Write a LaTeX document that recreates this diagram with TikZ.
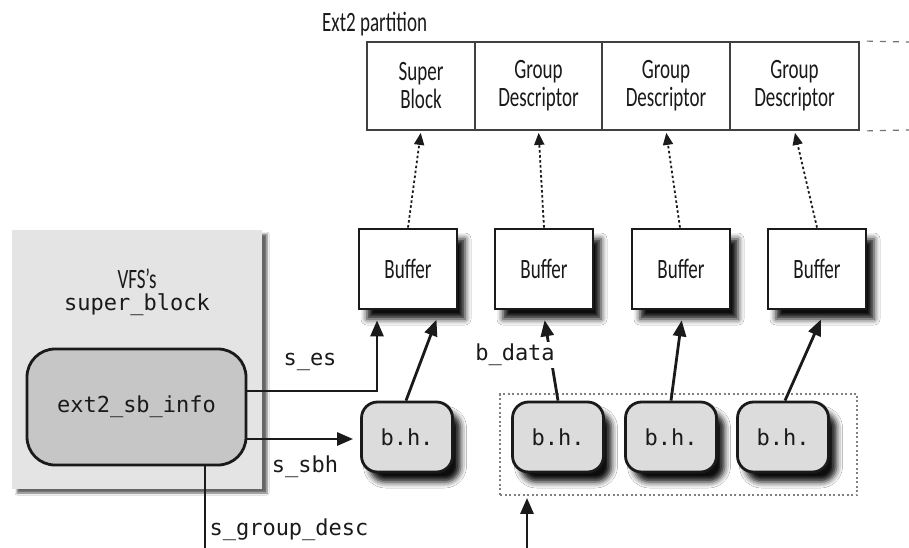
\documentclass[tikz,border=0pt]{standalone}
\usepackage{fontspec}
\setmainfont{Carlito}[FakeStretch=0.68]
\setmonofont{DejaVu Sans Mono}
\usetikzlibrary{arrows.meta,shadows.blur}
\definecolor{vfsgray}{HTML}{E4E4E4}
\definecolor{sbgray}{HTML}{C6C6C6}
\definecolor{bhgray}{HTML}{DCDCDC}
\definecolor{ink}{HTML}{1A1A1A}
\begin{document}
\begin{tikzpicture}[x=1pt,y=-1pt,
  lbl/.style={font=\fontsize{28}{28}\selectfont, align=center, inner sep=0pt, text=ink},
  code/.style={font=\ttfamily\fontsize{22}{25}\selectfont, inner sep=0pt, text=ink},
  shad/.style={blur shadow={shadow xshift=8pt, shadow yshift=-10pt, shadow blur radius=6pt, shadow opacity=95}},
  bufbox/.style={draw=ink, line width=2.8pt, fill=white, minimum width=98pt, minimum height=80pt, inner sep=0pt, shad, lbl},
  bhbox/.style={draw=ink, line width=2.8pt, rounded corners=16pt, fill=bhgray, minimum width=91pt, minimum height=70pt, inner sep=0pt, shad, code},
  cell/.style={draw=black!75, line width=1.8pt, minimum height=88pt, inner sep=0pt, lbl},
  arr/.style={draw=ink, line width=2.8pt, -{Triangle[length=16pt,width=13pt]}},
  dotarr/.style={draw=ink, line width=1.8pt, dash pattern=on 2.5pt off 2.5pt, -{Triangle[length=12pt,width=10pt]}},
]
\useasboundingbox (0,0) rectangle (909,548);
\fill[white] (0,0) rectangle (909,548);

% partition
\node[lbl, anchor=west] (ptitle) at (322,24) {Ext2 partition};
\node[cell, minimum width=108pt] (c1) at (421,86) {Super\\Block};
\node[cell, minimum width=127pt] (c2) at (538.5,86) {Group\\Descriptor};
\node[cell, minimum width=128pt] (c3) at (666,86) {Group\\Descriptor};
\node[cell, minimum width=129pt] (c4) at (794.5,86) {Group\\Descriptor};
\coordinate (dt) at (909,42);
\coordinate (db) at (909,130);
\draw[black!55, line width=1.2pt, dash pattern=on 6pt off 7pt] ([xshift=7pt]c4.north east) -- (dt);
\draw[black!55, line width=1.2pt, dash pattern=on 6pt off 7pt] ([xshift=7pt]c4.south east) -- (db);

% VFS super_block
\node[fill=vfsgray, minimum width=250pt, minimum height=259pt, inner sep=0pt,
      blur shadow={shadow xshift=5pt, shadow yshift=-4pt, shadow blur radius=2pt, shadow opacity=60}] (vfs) at (137,359.5) {};
\node[lbl] (vfst) at (137,279) {VFS's};
\node[code] (vfsc) at (137,305) {super\_block};
\node[draw=ink, line width=2.8pt, rounded corners=28pt, fill=sbgray, minimum width=219pt, minimum height=116pt, inner sep=0pt, code] (sb) at (136.5,407) {ext2\_sb\_info};

% buffers
\node[bufbox] (b1) at (408,269) {Buffer};
\node[bufbox] (b2) at (544,269) {Buffer};
\node[bufbox] (b3) at (681,269) {Buffer};
\node[bufbox] (b4) at (817,269) {Buffer};

% group box
\node[draw=black!50, line width=1.8pt, dash pattern=on 2pt off 2.5pt, minimum width=357pt, minimum height=101pt, inner sep=0pt] (grp) at (678.5,444.5) {};

% buffer heads
\node[bhbox] (h1) at (407,437) {b.h.};
\node[bhbox] (h2) at (558,437) {b.h.};
\node[bhbox] (h3) at (671,437) {b.h.};
\node[bhbox] (h4) at (783,437) {b.h.};

% dotted arrows to partition
\draw[dotarr, shorten >=2pt] (b1.north) -- (c1.south);
\draw[dotarr, shorten >=2pt] (b2.north) -- (c2.south);
\draw[dotarr, shorten >=2pt] ([xshift=-1pt]b3.north) -- (c3.south);
\draw[dotarr, shorten >=2pt] (b4.north) -- (c4.south);

% pointers
\draw[arr, shorten >=10pt] ([yshift=16pt]sb.east) -| ([xshift=-31pt]b1.south);
\draw[arr, shorten >=7pt] ([yshift=-32pt]sb.east) -- ([yshift=-32pt]sb.east -| h1.west);
\coordinate (gdend) at (205,548);
\draw[draw=ink, line width=2.8pt] ([xshift=68.5pt]sb.south) -- (gdend);

\draw[arr, shorten >=10pt] ([xshift=-1pt]h1.north) -- ([xshift=32pt]b1.south);
\draw[arr, shorten >=10pt] (h2.north) -- ([xshift=-1pt]b2.south);
\draw[arr, shorten >=10pt] (h3.north) -- ([xshift=2pt]b3.south);
\draw[arr, shorten >=10pt] ([xshift=2pt]h4.north) -- ([xshift=8pt]b4.south);

\coordinate (gin) at (527,548);
\draw[arr, shorten >=2pt] (gin) -- (gin |- grp.south);

% labels
\node[code] (les) at (310,362) {s\_es};
\node[code] (lsbh) at (305,467) {s\_sbh};
\node[code] (lgd) at (289,530) {s\_group\_desc};
\node[code, fill=white, inner sep=2pt] (lbd) at (515,355) {b\_data};
\end{tikzpicture}
\end{document}
